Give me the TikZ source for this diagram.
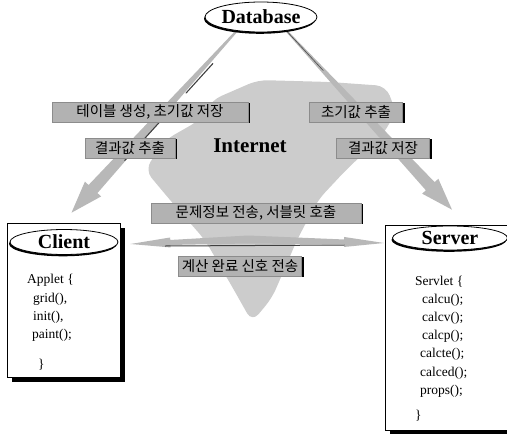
\documentclass[tikz,border=0pt]{standalone}
\usepackage{fontspec}
\setmainfont{Liberation Serif}
\newfontfamily\kr{Noto Sans CJK KR}
\usetikzlibrary{shapes.geometric,shadows,calc}
\pgfdeclarelayer{bgblob}
\pgfdeclarelayer{bgarrow}
\pgfsetlayers{bgblob,bgarrow,main}
\newcommand{\taperarrow}[6]{% tail, tip, tail half width, shaft half width, head length, head half width
  \coordinate (tpa) at (#1);
  \coordinate (tpb) at (#2);
  \coordinate (tpm) at ($(tpb)!#5!(tpa)$);
  \fill[arrowfill] ($(tpa)!#3!90:(tpb)$) -- ($(tpm)!#4!90:(tpb)$) -- ($(tpm)!#6!90:(tpb)$) -- (tpb)
     -- ($(tpm)!#6!-90:(tpb)$) -- ($(tpm)!#4!-90:(tpb)$) -- ($(tpa)!#3!-90:(tpb)$) -- cycle;
}
\begin{document}
\begin{tikzpicture}[x=1pt,y=-1pt,
  lbl/.style={draw=black!45, line width=0.4pt, fill=black!30, inner xsep=2pt, inner ysep=0pt, minimum height=20pt,
    font=\kr\fontsize{14.5}{17}\selectfont,
    drop shadow={shadow xshift=2pt, shadow yshift=-0.9pt, fill=black, opacity=1}},
  ovalnode/.style={ellipse, draw=black, line width=0.8pt, fill=white, inner sep=0pt,
    font=\bfseries\fontsize{20}{22}\selectfont,
    drop shadow={shadow xshift=-1pt, shadow yshift=-1.8pt, fill=black, opacity=1}},
  panel/.style={rectangle, draw=black, line width=0.6pt, fill=white, inner sep=0pt,
    drop shadow={shadow xshift=5pt, shadow yshift=-5pt, fill=black, opacity=1}},
  code/.style={anchor=west, inner sep=0pt, font=\fontsize{13.5}{15}\selectfont},
  arrowfill/.style={fill=black!28},
  darkedge/.style={draw=black!75, line width=1.1pt, line cap=round},
  blob/.style={fill=black!20}
]
\useasboundingbox (0,0) rectangle (507,434);

% panels
\node[panel, minimum width=113pt, minimum height=154pt] (clientbox) at (63.5,300) {};
\node[panel, minimum width=130pt, minimum height=205pt] (serverbox) at (450,327.5) {};

% ellipses
\node[ovalnode, minimum width=112pt, minimum height=30pt] (db) at (261,17) {Database};
\node[ovalnode, minimum width=108pt, minimum height=25pt] (client) at (64,242) {Client};
\node[ovalnode, minimum width=115pt, minimum height=24pt] (server) at (450,238) {Server};

% code
\node[code] (c1) at (27,280) {Applet \{};
\node[code] (c2) at (33,299) {grid(),};
\node[code] (c3) at (33,317) {init(),};
\node[code] (c4) at (32,335) {paint();};
\node[code] (c5) at (38,365) {\}};

\node[code] (s1) at (415,282) {Servlet \{};
\node[code] (s2) at (422,300) {calcu();};
\node[code] (s3) at (422,318) {calcv();};
\node[code] (s4) at (422,336) {calcp();};
\node[code] (s5) at (420,354) {calcte();};
\node[code] (s6) at (420,373) {calced();};
\node[code] (s7) at (420,391) {props();};
\node[code] (s8) at (415,416) {\}};

% internet
\node[font=\bfseries\fontsize{21}{24}\selectfont, inner sep=0pt] (net) at (250,146) {Internet};

% labels
\node[lbl, minimum width=196pt] (l1) at (150,112) {테이블 생성, 초기값 저장};
\node[lbl, minimum width=90pt] (l2) at (130,148) {결과값 추출};
\node[lbl, minimum width=93pt] (l3) at (356,112) {초기값 추출};
\node[lbl, minimum width=93pt] (l4) at (383,148) {결과값 저장};
\node[lbl, minimum width=210pt] (l5) at (256,213) {문제정보 전송, 서블릿 호출};
\node[lbl, minimum width=123pt] (l6) at (240,266) {계산 완료 신호 전송};

% connector end points
\coordinate (dbl) at ($(db.south)+(-22,-4)$);
\coordinate (dbr) at ($(db.south)+(26,-1)$);
\coordinate (cltip) at ($(clientbox.north)+(8,-10)$);
\coordinate (svtip) at ($(serverbox.north)+(2,-15)$);
\coordinate (hmid) at ($(l5.south)!0.5!(l6.north)$);
\coordinate (hl) at ($(client.east)+(12,2)$);
\coordinate (hr) at ($(server.west)+(-8,5)$);

\begin{pgfonlayer}{bgblob}
\fill[blob, rounded corners=10pt] (212,100) -- (258,80) -- (330,82) -- (386,86) -- (396,112) -- (382,136)
  -- (346,170) -- (318,200) -- (297,240) -- (272,298) -- (252,322) -- (234,290) -- (205,240)
  -- (170,200) -- (145,170) -- (165,140) -- (200,120) -- cycle;
\end{pgfonlayer}

\begin{pgfonlayer}{bgarrow}
\taperarrow{dbl}{cltip}{1pt}{6pt}{32pt}{11pt}
\draw[darkedge] ($(dbl)!0.18!(cltip)+(4,2)$) -- ($(dbl)!0.34!(cltip)+(4,2)$);
\draw[darkedge] ($(dbl)!0.47!(cltip)+(3,3)$) -- ($(dbl)!0.7!(cltip)+(3,3)$);
\taperarrow{dbr}{svtip}{1pt}{6pt}{32pt}{11pt}
\draw[draw=black!70, line width=0.6pt] (dbr) -- ($(dbr)!0.22!(svtip)$);
\taperarrow{hmid}{hl}{4pt}{2.5pt}{40pt}{5pt}
\taperarrow{hmid}{hr}{4pt}{2.5pt}{40pt}{5pt}
\draw[darkedge, line width=1pt] ($(hl)+(35,2)$) -- ($(hr)+(-40,2)$);
\end{pgfonlayer}
\end{tikzpicture}
\end{document}
